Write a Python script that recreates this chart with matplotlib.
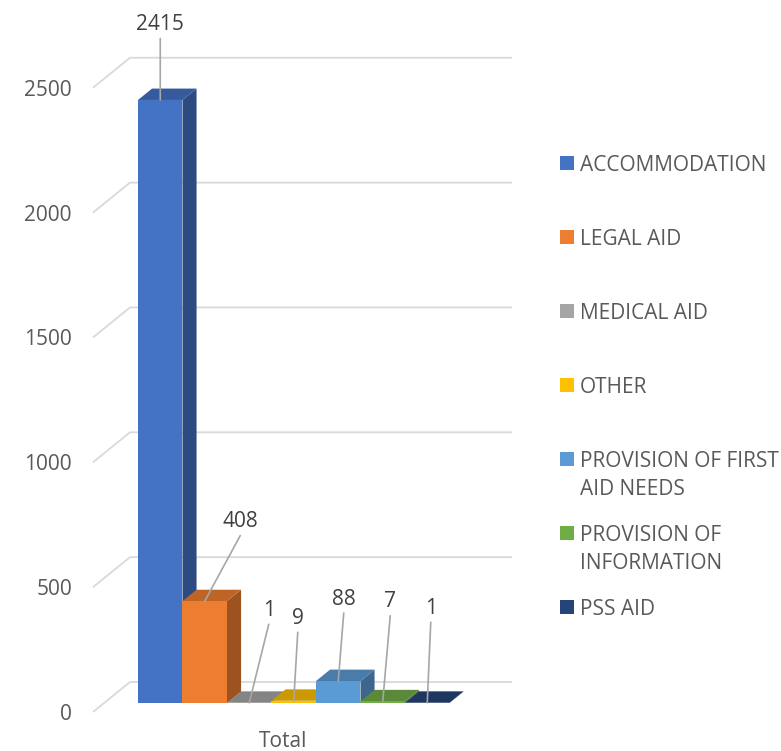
import textwrap
import matplotlib
matplotlib.use("Agg")
import matplotlib.pyplot as plt
from matplotlib.patches import Polygon, Rectangle
import matplotlib.colors as mcolors

# ---------------- data ----------------
categories = ["ACCOMMODATION", "LEGAL AID", "MEDICAL AID", "OTHER",
              "PROVISION OF FIRST AID NEEDS", "PROVISION OF INFORMATION", "PSS AID"]
values = [2415, 408, 1, 9, 88, 7, 1]
colors = ["#4472C4", "#ED7D31", "#A5A5A5", "#FFC000", "#5B9BD5", "#70AD47", "#264478"]
yticks = [0, 500, 1000, 1500, 2000, 2500]
group_label = "Total"

# label offsets (pixels, relative to front-top centre of each bar)
label_offsets = [(0, 78), (35.5, 82), (19.5, 95), (4, 85), (5.5, 84.5), (7.5, 102), (3.5, 97)]

plt.rcParams["font.family"] = ["Open Sans", "DejaVu Sans"]
FS = 15
AXIS_C = "#595959"
LABEL_C = "#404040"

W, H, DPI = 781, 751, 100
fig = plt.figure(figsize=(W / DPI, H / DPI), dpi=DPI)
fig.patch.set_facecolor("white")
ax = fig.add_axes([0, 0, 1, 1])

PX = 44.5     # px per category unit
PY = 0.2497   # px per value unit
X0 = 138      # px of left edge of first bar
Y0 = 703      # px (from top) of bar baseline

DX = 37 / PX       # full depth offset (data x)
DY = 30 / PY       # full depth offset (data y)
D0 = 0.30          # depth of bar fronts
DEPTH = 0.38       # bar depth


def proj(x, v, d):
    return (x + (d - D0) * DX, v + (d - D0) * DY)


def shade(c, f):
    r, g, b = mcolors.to_rgb(c)
    return (r * f, g * f, b * f)


# ---------------- gridlines / walls ----------------
wall_x0 = (93 - X0) / PX - 0.5 + D0 * DX   # in bar-plane coordinates
wall_x1 = (512 - X0) / PX - 0.5
for v in yticks:
    xa, ya = proj(wall_x0, v, 0)
    xb, yb = proj(wall_x0, v, 1)
    ax.plot([xa, xb, wall_x1], [ya, yb, yb], color="#d9d9d9", lw=1.3,
            zorder=1, solid_capstyle="butt")
    ax.annotate(str(v), (xa, ya), xytext=(-21, 0), textcoords="offset pixels",
                ha="right", va="center_baseline", fontsize=FS, color=AXIS_C)

# ---------------- bars ----------------
n = len(values)
xs = list(range(n))
bars = ax.bar(xs, values, width=1.0, color=colors, linewidth=0)
ddx, ddy = DEPTH * DX, DEPTH * DY
for i, (x, v, c) in enumerate(zip(xs, values, colors)):
    l, r = x - 0.5, x + 0.5
    z = 3 + i * 0.1
    side = Polygon([(r, 0), (r + ddx, ddy), (r + ddx, v + ddy), (r, v)],
                   closed=True, facecolor=shade(c, 0.66), edgecolor="none", zorder=z)
    top = Polygon([(l, v), (r, v), (r + ddx, v + ddy), (l + ddx, v + ddy)],
                  closed=True, facecolor=shade(c, 0.80), edgecolor="none", zorder=z + 0.01)
    ax.add_patch(side)
    ax.add_patch(top)
    bars[i].set_zorder(z + 0.02)

    ox, oy = label_offsets[i]
    ax.annotate("", xy=(x, v), xytext=(ox, oy - 16.5), textcoords="offset pixels",
                arrowprops=dict(arrowstyle="-", color="#a6a6a6", lw=1.2,
                                shrinkA=0, shrinkB=0), zorder=10)
    ax.annotate(str(v), (x, v), xytext=(ox, oy), textcoords="offset pixels",
                ha="center", va="center_baseline", fontsize=FS, color=LABEL_C, zorder=11)

# category label
cx, cy = proj(sum(xs) / n, 0, 0)
ax.annotate(group_label, (cx, cy), xytext=(0, -27), textcoords="offset pixels",
            ha="center", va="center_baseline", fontsize=FS, color=AXIS_C)

ax.set_xlim((0 - X0) / PX - 0.5, (W - X0) / PX - 0.5)
ax.set_ylim((Y0 - H) / PY, Y0 / PY)
ax.axis("off")

# ---------------- legend ----------------
for i, (cat, c) in enumerate(zip(categories, colors)):
    yc = 163 + 74 * i
    fig.patches.append(Rectangle((560 / W, 1 - (yc + 7) / H), 14 / W, 14 / H,
                                 transform=fig.transFigure, facecolor=c,
                                 edgecolor="none", figure=fig))
    for j, line in enumerate(textwrap.wrap(cat, 18)):
        fig.text(580 / W, 1 - (yc + 28 * j) / H, line, ha="left",
                 va="center_baseline", fontsize=FS, color=AXIS_C)

fig.savefig("out.png", dpi=DPI, facecolor="white")
